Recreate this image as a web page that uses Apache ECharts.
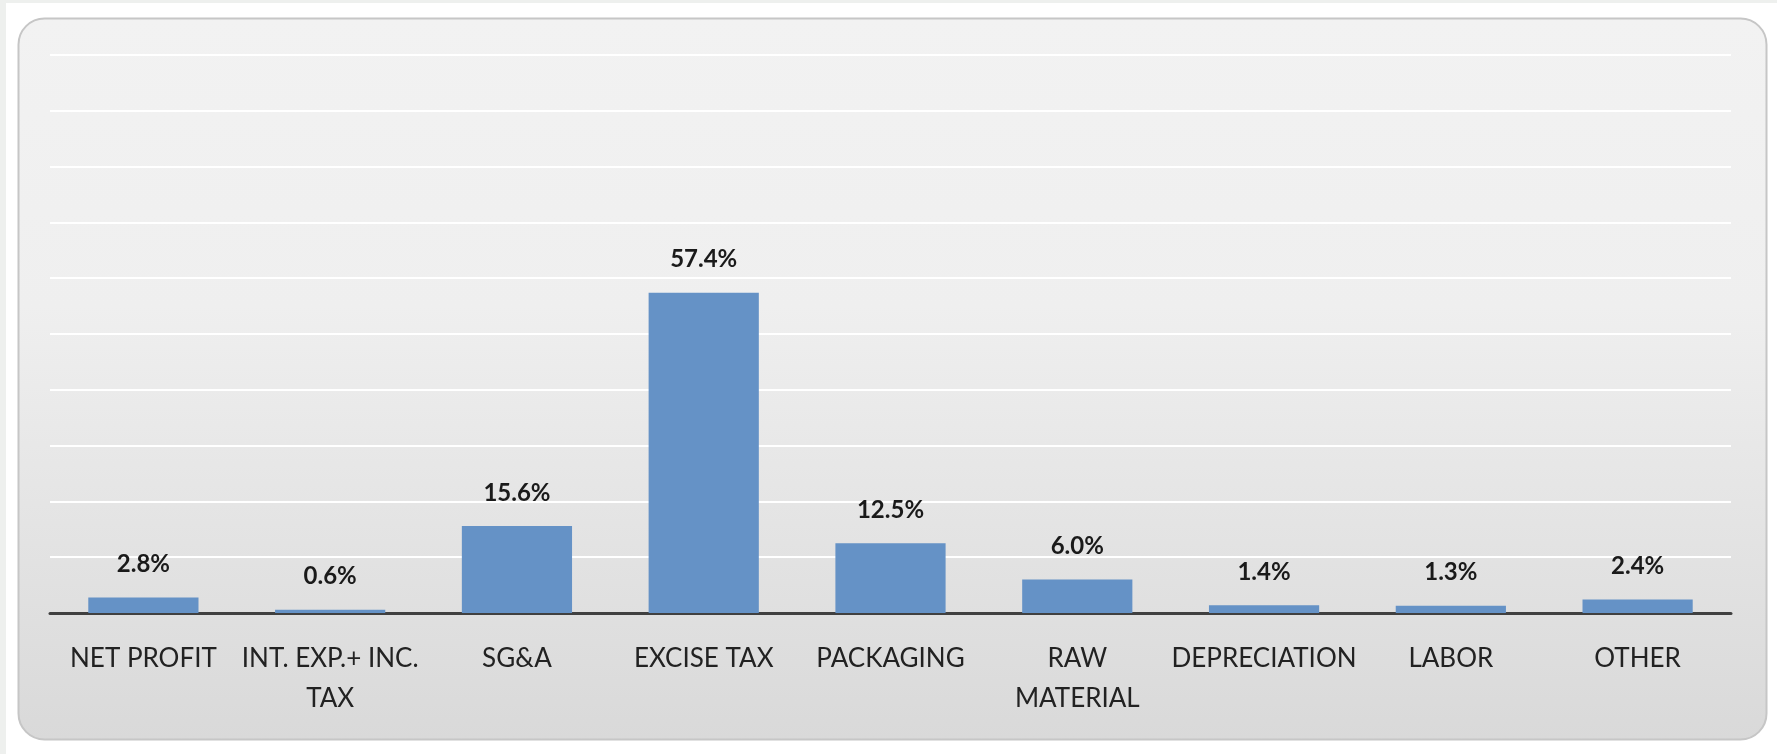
<!DOCTYPE html>
<html>
<head>
<meta charset="utf-8">
<script src="https://cdn.jsdelivr.net/npm/echarts@6/dist/echarts.min.js"></script>
<style>
html,body{margin:0;padding:0;background:#ffffff;}
#chart{width:1777px;height:754px;}
</style>
</head>
<body>
<div id="chart"></div>
<script>
const categories = ['NET PROFIT', 'INT. EXP.+ INC.\nTAX', 'SG&A', 'EXCISE TAX', 'PACKAGING', 'RAW\nMATERIAL', 'DEPRECIATION', 'LABOR', 'OTHER'];
const shares = [2.8, 0.6, 15.6, 57.4, 12.5, 6.0, 1.4, 1.3, 2.4];
const yMin = 0, yMax = 100, yStep = 10;

const chart = echarts.init(document.getElementById('chart'), null, {renderer: 'canvas'});
chart.setOption({
  backgroundColor: '#ffffff',
  animation: false,
  graphic: [
    {type: 'rect', z: -20, shape: {x: 0, y: 0, width: 6, height: 754}, style: {fill: '#eef0ee'}},
    {type: 'rect', z: -20, shape: {x: 0, y: 0, width: 1777, height: 3}, style: {fill: '#eef0ee'}},
    {type: 'rect', z: -10,
      shape: {x: 18.5, y: 18.5, width: 1748, height: 721, r: 26},
      style: {
        fill: new echarts.graphic.LinearGradient(0, 0, 0, 1, [
          {offset: 0, color: '#f2f2f2'},
          {offset: 0.4, color: '#efefef'},
          {offset: 1, color: '#d9d9d9'}
        ]),
        stroke: '#c6c6c6', lineWidth: 2
      }}
  ],
  grid: {left: 50, right: 46, top: 55, bottom: 141, containLabel: false},
  xAxis: {
    type: 'category',
    data: categories,
    axisLine: {show: true, lineStyle: {color: '#404040', width: 3}},
    axisTick: {show: false},
    axisLabel: {
      interval: 0, margin: 26, color: '#222222',
      fontFamily: 'Lato', fontSize: 26, lineHeight: 40
    }
  },
  yAxis: {
    type: 'value', min: yMin, max: yMax, interval: yStep,
    axisLine: {show: false}, axisTick: {show: false}, axisLabel: {show: false},
    splitLine: {show: true, lineStyle: {color: '#ffffff', width: 2}}
  },
  series: [{
    type: 'bar',
    data: shares,
    barWidth: '59%',
    itemStyle: {color: '#6592c6'},
    label: {
      show: true, position: 'top', distance: 21,
      formatter: p => p.value.toFixed(1) + '%',
      color: '#1a1a1a', fontFamily: 'Lato', fontWeight: 'bold', fontSize: 24
    }
  }]
});
</script>
</body>
</html>
